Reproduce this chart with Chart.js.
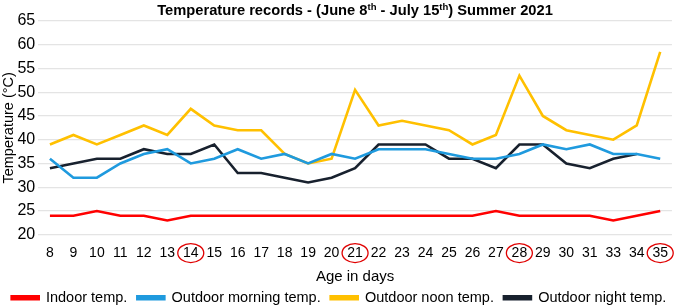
<!DOCTYPE html>
<html lang="en">
<head>
    <meta charset="UTF-8">
    <title>Temperature records</title>
    <script src="https://cdn.jsdelivr.net/npm/chart.js"></script>
    <style>
        body { margin: 0; background: #fff; }
        #wrap { width: 678px; height: 307px; }
    </style>
</head>
<body>
    <div id="wrap"><canvas id="tempChart"></canvas></div>

    <script>
        // Data
        const days = ['8', '9', '10', '11', '12', '13', '14', '15', '16', '17', '18', '19', '20', '21',
                      '22', '23', '24', '25', '26', '27', '28', '29', '30', '31', '33', '34', '35'];
        const indoor = [24, 24, 25, 24, 24, 23, 24, 24, 24, 24, 24, 24, 24, 24,
                        24, 24, 24, 24, 24, 25, 24, 24, 24, 24, 23, 24, 25];
        const morning = [36, 32, 32, 35, 37, 38, 35, 36, 38, 36, 37, 35, 37, 36,
                         38, 38, 38, 37, 36, 36, 37, 39, 38, 39, 37, 37, 36];
        const noon = [39, 41, 39, 41, 43, 41, 46.5, 43, 42, 42, 37, 35, 36, 50.5,
                      43, 44, 43, 42, 39, 41, 53.5, 45, 42, 41, 40, 43, 58.5];
        const night = [34, 35, 36, 36, 38, 37, 37, 39, 33, 33, 32, 31, 32, 34,
                       39, 39, 39, 36, 36, 34, 39, 39, 35, 34, 36, 37, null];
        const circledDays = ['14', '21', '28', '35'];

        const font = 'Liberation Sans, Arial, sans-serif';
        const xTickPad = 10;

        // title with superscripts, drawn on the canvas
        const titlePlugin = {
            id: 'supTitle',
            afterDraw(chart) {
                const ctx = chart.ctx;
                const parts = [
                    ['Temperature records - (June 8', false], ['th', true],
                    [' - July 15', false], ['th', true], [') Summer 2021', false]
                ];
                const big = 'bold 14.7px ' + font, small = 'bold 9.5px ' + font;
                let w = 0;
                parts.forEach(p => { ctx.font = p[1] ? small : big; w += ctx.measureText(p[0]).width; });
                let x = 355 - w / 2;
                ctx.save();
                ctx.fillStyle = '#000';
                ctx.textBaseline = 'alphabetic';
                parts.forEach(p => {
                    ctx.font = p[1] ? small : big;
                    ctx.fillText(p[0], x, p[1] ? 10 : 14.5);
                    x += ctx.measureText(p[0]).width;
                });
                ctx.restore();
            }
        };

        // red ellipses round some day labels
        const circlePlugin = {
            id: 'circles',
            afterDraw(chart) {
                const ctx = chart.ctx;
                const xs = chart.scales.x;
                const y = xs.top + xTickPad + 8.4;
                ctx.save();
                ctx.strokeStyle = '#e00000';
                ctx.lineWidth = 1.3;
                circledDays.forEach(d => {
                    const i = days.indexOf(d);
                    const x = xs.getPixelForValue(i);
                    ctx.beginPath();
                    ctx.ellipse(x, y, 13, 9.5, 0, 0, Math.PI * 2);
                    ctx.stroke();
                });
                ctx.restore();
            }
        };

        new Chart(document.getElementById('tempChart'), {
            type: 'line',
            data: {
                labels: days,
                datasets: [
                    { label: 'Indoor temp.', data: indoor, borderColor: '#ff0000', backgroundColor: '#ff0000' },
                    { label: 'Outdoor morning temp.', data: morning, borderColor: '#1f9ade', backgroundColor: '#1f9ade' },
                    { label: 'Outdoor noon temp.', data: noon, borderColor: '#ffc000', backgroundColor: '#ffc000' },
                    { label: 'Outdoor night temp.', data: night, borderColor: '#18212e', backgroundColor: '#18212e' }
                ]
            },
            options: {
                responsive: true,
                maintainAspectRatio: false,
                animation: false,
                layout: { padding: { top: 21, right: 0, left: 0, bottom: -8 } },
                elements: {
                    line: { borderWidth: 2.6, tension: 0 },
                    point: { radius: 0 }
                },
                plugins: {
                    legend: {
                        position: 'bottom',
                        labels: {
                            font: { family: font, size: 14.5 },
                            color: '#000',
                            boxWidth: 27,
                            boxHeight: 3,
                            padding: 10
                        }
                    },
                    title: { display: false },
                    tooltip: { enabled: false }
                },
                scales: {
                    x: {
                        offset: true,
                        grid: { display: false, drawTicks: false },
                        border: { display: false },
                        ticks: {
                            autoSkip: false,
                            maxRotation: 0,
                            color: '#000',
                            font: { family: font, size: 14 },
                            padding: xTickPad
                        },
                        title: {
                            display: true,
                            text: 'Age in days',
                            color: '#000',
                            font: { family: font, size: 15 },
                            padding: { top: -4, bottom: -5 }
                        }
                    },
                    y: {
                        min: 20,
                        max: 65,
                        grid: { color: '#e4e4e4', lineWidth: 1.3, drawTicks: false },
                        border: { display: false },
                        ticks: {
                            stepSize: 5,
                            autoSkip: false,
                            color: '#000',
                            font: { family: font, size: 16 },
                            padding: 3
                        },
                        title: {
                            display: true,
                            text: 'Temperature (°C)',
                            color: '#000',
                            font: { family: font, size: 14.5 },
                            padding: { top: 0, bottom: -3 }
                        }
                    }
                }
            },
            plugins: [titlePlugin, circlePlugin]
        });
    </script>
</body>
</html>
